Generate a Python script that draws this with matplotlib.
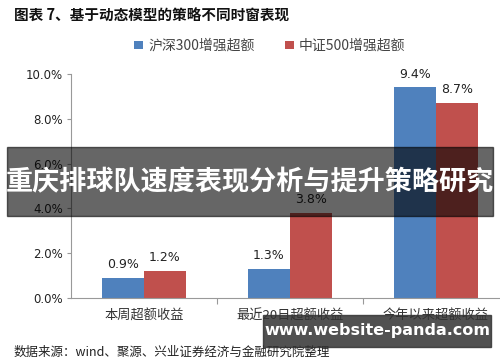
import matplotlib
matplotlib.use("Agg")
import matplotlib.pyplot as plt
import numpy as np
from matplotlib.patches import Rectangle

plt.rcParams['font.family'] = ['Noto Sans CJK SC', 'DejaVu Sans']

categories = ["本周超额收益", "最近20日超额收益", "今年以来超额收益"]
series_names = ["沪深300增强超额", "中证500增强超额"]
hs300 = [0.9, 1.3, 9.4]
zz500 = [1.2, 3.8, 8.7]
yticks = [0, 2, 4, 6, 8, 10]
colors = ["#4F81BD", "#C0504D"]

fig = plt.figure(figsize=(5.0, 3.62), dpi=100)
ax = fig.add_axes([0.142, 0.1768, 0.876, 0.619])

x = np.arange(len(categories))
w = 0.288
b1 = ax.bar(x - w/2, hs300, w, color=colors[0], label=series_names[0])
b2 = ax.bar(x + w/2, zz500, w, color=colors[1], label=series_names[1])

for bars, vals in ((b1, hs300), (b2, zz500)):
    for r, v in zip(bars, vals):
        ax.text(r.get_x() + r.get_width()/2, v + 0.3, f"{v:.1f}%", ha='center', va='bottom',
                fontsize=9, color='#222222', family='DejaVu Sans')

ax.set_xlim(-0.5, 2.5)
ax.set_ylim(0, 10)
ax.set_yticks(yticks)
ax.set_yticklabels([f"{t:.1f}%" for t in yticks], fontsize=8.5, color='#222222', family='DejaVu Sans')
ax.set_xticks([0.5, 1.5])
ax.set_xticklabels([])
ax.tick_params(axis='x', length=4, color='#999999', direction='out')
ax.tick_params(axis='y', length=3, color='#999999', direction='out', pad=3)
for i, c in enumerate(categories):
    ax.text(i, -0.5, c, ha='center', va='top', fontsize=9.5, color='#333333')
for s in ['top', 'right']:
    ax.spines[s].set_visible(False)
for s in ['left', 'bottom']:
    ax.spines[s].set_color('#999999')
    ax.spines[s].set_linewidth(0.8)

leg = fig.legend(loc='center', bbox_to_anchor=(0.54, 0.873), ncol=2, frameon=False,
                 fontsize=10, handlelength=0.6, handleheight=0.6, handletextpad=0.4, columnspacing=2.2)
for t in leg.get_texts():
    t.set_color('#444444')

fig.text(0.028, 0.958, "图表 7、基于动态模型的策略不同时窗表现", fontsize=10.5, fontweight='bold',
         ha='left', va='center', color='#111111')
fig.text(0.028, 0.027, "数据来源：wind、聚源、兴业证券经济与金融研究院整理", fontsize=9,
         ha='left', va='center', color='#222222')

# overlay banner
fig.patches.append(Rectangle((0.014, 1 - 216/362), 0.972, 69/362, transform=fig.transFigure,
                             color='black', alpha=0.6, zorder=10))
fig.text(0.5, 1 - 182/362, "重庆排球队速度表现分析与提升策略研究", fontsize=19.5, fontweight='bold',
         color='white', ha='center', va='center', zorder=11)

# watermark
fig.patches.append(Rectangle((263/500, 1 - 347/362), 228/500, 32/362, transform=fig.transFigure,
                             color='#333333', alpha=0.85, zorder=10))
fig.text(377/500, 1 - 331/362, "www.website-panda.com", fontsize=11.5, fontweight='bold',
         color='white', ha='center', va='center', zorder=11, family='DejaVu Sans')

fig.savefig("out.png", dpi=100)
